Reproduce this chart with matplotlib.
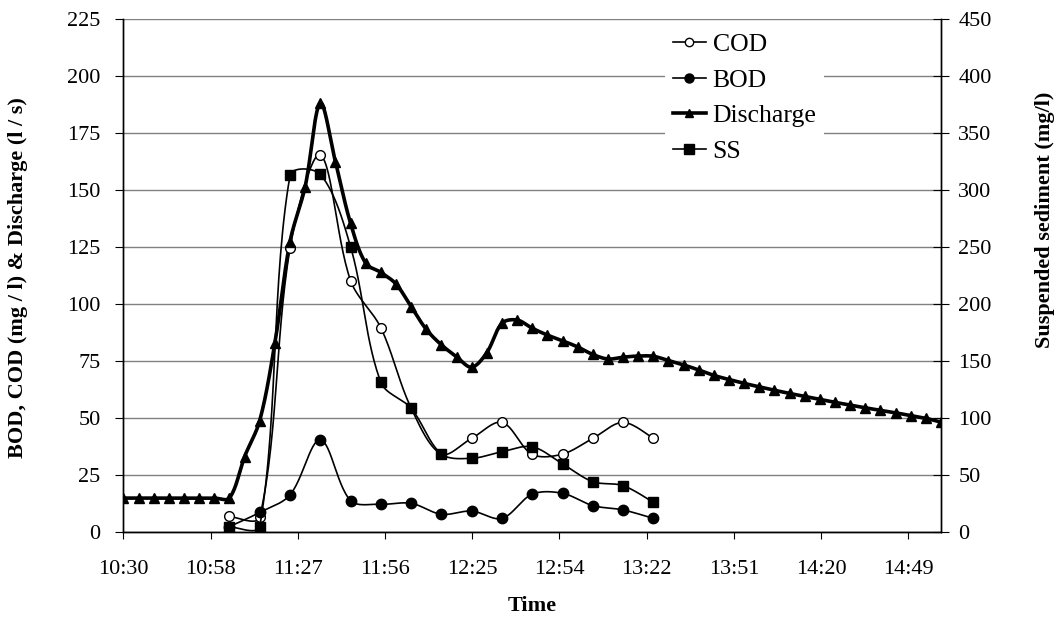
import numpy as np
import matplotlib
matplotlib.use("Agg")
import matplotlib.pyplot as plt
from matplotlib.lines import Line2D

plt.rcParams['font.family'] = ['Liberation Serif', 'DejaVu Serif']

# ---- data (x in minutes after 10:30) ----
tick_minutes = [0, 28.8, 57.6, 86.4, 115.2, 144.0, 172.8, 201.6, 230.4, 259.2]
tick_labels = ["10:30", "10:58", "11:27", "11:56", "12:25", "12:54", "13:22", "13:51", "14:20", "14:49"]

q_time = [0, 5, 10, 15, 20, 25, 30, 35, 40, 45, 50, 55, 60, 65, 70, 75, 80, 85, 90, 95,
          100, 105, 110, 115, 120, 125, 130, 135, 140, 145, 150, 155, 160, 165, 170, 175,
          180, 185, 190, 195, 200, 205, 210, 215, 220, 225, 230, 235, 240, 245, 250, 255,
          260, 265, 270]
discharge = [15, 15, 15, 15, 15, 15, 15, 15, 33.2, 49, 83, 127.5, 151.6, 188.2, 162.5, 135.5,
             118, 114, 108.9, 99, 89, 82.2, 77, 72.4, 78.8, 91.7, 93.1, 89.5, 86.5, 84,
             81.3, 78, 76, 76.8, 77.3, 77.2, 75.3, 73.4, 71.2, 68.8, 67, 65.3, 63.8, 62.3,
             60.9, 59.6, 58.3, 57.0, 55.8, 54.6, 53.5, 52.4, 51.2, 50.0, 48.3]

s_time = [35, 45, 55, 65, 75, 85, 95, 105, 115, 125, 135, 145, 155, 165, 175]
cod = [7, 6.5, 124.6, 165.5, 110.4, 89.7, 54.5, 34.3, 41.2, 48.2, 34.2, 34.3, 41.2, 48.2, 41.2]
bod = [2.5, 8.7, 16.4, 40.5, 13.9, 12.3, 12.7, 7.9, 9.3, 6.1, 16.7, 17.1, 11.7, 9.8, 6.1]
ss = [5, 5, 313, 314, 250.5, 131.6, 108.8, 68.7, 64.9, 70.7, 75, 60, 44.4, 40.9, 26.3]

PX_PER_MIN = 817.5 / 270.0
PX_PER_LEFT = 513.0 / 225.0
PX_PER_RIGHT = 513.0 / 450.0


def smooth(x, y, sy, n=30):
    """Excel-like smoothed line: Bezier through points, tangents scaled by chord lengths (pixel space)."""
    P = np.column_stack([np.asarray(x, float) * PX_PER_MIN, np.asarray(y, float) * sy])
    m = len(P)
    d = np.hypot(*np.diff(P, axis=0).T)
    out = [P[0]]
    tt = np.linspace(0, 1, n + 1)[1:]
    for i in range(m - 1):
        p1, p2 = P[i], P[i + 1]
        if i == 0:
            c1 = p1 + (p2 - p1) / 6.0
        else:
            T = P[i + 1] - P[i - 1]
            c1 = p1 + T * d[i] / (d[i - 1] + d[i]) / 3.0
        if i + 2 >= m:
            c2 = p2 - (p2 - p1) / 6.0
        else:
            T = P[i + 2] - P[i]
            c2 = p2 - T * d[i] / (d[i] + d[i + 1]) / 3.0
        for t in tt:
            b = ((1 - t) ** 3) * p1 + 3 * ((1 - t) ** 2) * t * c1 + 3 * (1 - t) * t * t * c2 + t ** 3 * p2
            out.append(b)
    out = np.array(out)
    return out[:, 0] / PX_PER_MIN, out[:, 1] / sy


fig = plt.figure(figsize=(10.6, 6.19), dpi=100)
ax = fig.add_axes([0.1165, 0.1401, 0.7712, 0.8287])
ax2 = ax.twinx()

ax.set_xlim(0, 270)
ax.set_ylim(0, 225)
ax2.set_ylim(0, 450)
ax.set_yticks(np.arange(0, 226, 25))
ax2.set_yticks(np.arange(0, 451, 50))
ax.set_xticks(tick_minutes)
ax.set_xticklabels(tick_labels)

ax.grid(axis='y', color='#808080', linewidth=1.0)
ax.set_axisbelow(True)

for a in (ax, ax2):
    a.spines['top'].set_visible(False)
    for sp in a.spines.values():
        sp.set_linewidth(1.0)
        sp.set_color('black')

ax.tick_params(axis='y', direction='out', length=6, labelsize=16, pad=10.5)
ax.tick_params(axis='x', direction='out', length=5, labelsize=16, pad=15)
ax2.tick_params(axis='y', direction='inout', length=11, labelsize=16, pad=7)

# COD
xs, ys = smooth(s_time, cod, PX_PER_LEFT)
ax.plot(xs, ys, color='black', lw=1.2, zorder=3)
ax.plot(s_time, cod, ls='none', marker='o', ms=7, mfc='white', mec='black', mew=1.0, zorder=4)
# BOD
xs, ys = smooth(s_time, bod, PX_PER_LEFT)
ax.plot(xs, ys, color='black', lw=1.2, zorder=3)
ax.plot(s_time, bod, ls='none', marker='o', ms=7.5, mfc='black', mec='black', zorder=4)
# Discharge
xs, ys = smooth(q_time, discharge, PX_PER_LEFT)
ax.plot(xs, ys, color='black', lw=2.6, zorder=3)
ax.plot(q_time, discharge, ls='none', marker='^', ms=6.5, mfc='black', mec='black', zorder=4)
# SS
xs, ys = smooth(s_time, ss, PX_PER_RIGHT)
ax2.plot(xs, ys, color='black', lw=1.2, zorder=3)
ax2.plot(s_time, ss, ls='none', marker='s', ms=7, mfc='black', mec='black', zorder=4)

fig.text(18 / 1060, 1 - 278 / 619, "BOD, COD (mg / l) & Discharge (l / s)", fontsize=16,
         fontweight='bold', rotation=90, ha='center', va='center')
fig.text(1045 / 1060, 1 - 220 / 619, "Suspended sediment (mg/l)", fontsize=16,
         fontweight='bold', rotation=90, ha='center', va='center')
ax.set_xlabel("Time", fontsize=16, fontweight='bold', labelpad=12)

handles = [
    Line2D([], [], color='black', lw=1.2, marker='o', ms=6, mfc='white', mec='black'),
    Line2D([], [], color='black', lw=1.2, marker='o', ms=6.5, mfc='black', mec='black'),
    Line2D([], [], color='black', lw=2.6, marker='^', ms=6, mfc='black', mec='black'),
    Line2D([], [], color='black', lw=1.2, marker='s', ms=6.5, mfc='black', mec='black'),
]
leg = ax2.legend(handles, ["COD", "BOD", "Discharge", "SS"], loc='upper left',
                 bbox_to_anchor=(665 / 1060, 1 - 25 / 619), bbox_transform=fig.transFigure,
                 fontsize=18.5, frameon=True, fancybox=False, edgecolor='none',
                 facecolor='white', framealpha=1.0, handlelength=1.28, handletextpad=0.27,
                 labelspacing=0.5, borderpad=0.3, borderaxespad=0)

fig.savefig("out.png", dpi=100)
